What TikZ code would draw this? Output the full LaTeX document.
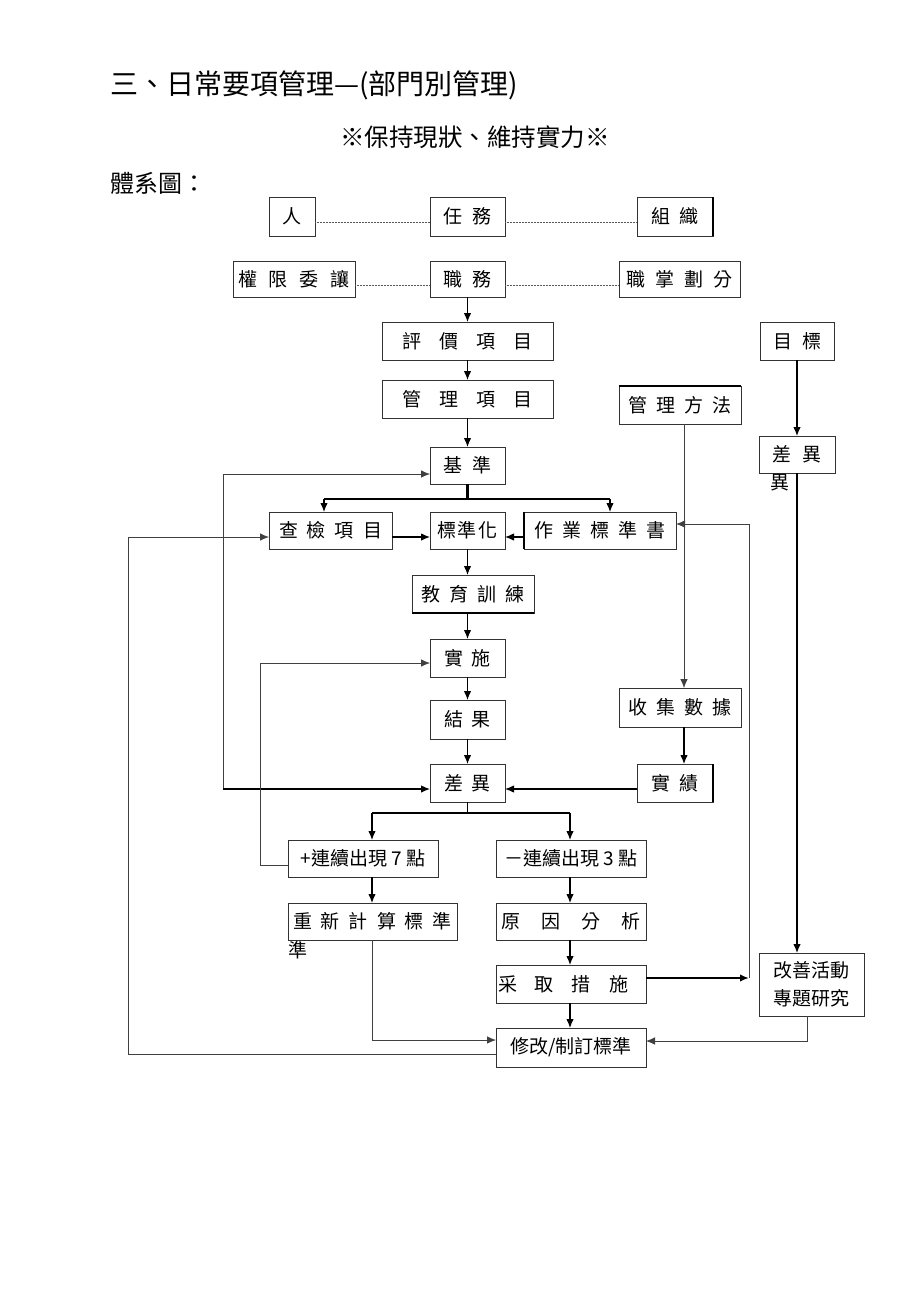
\documentclass[tikz,border=0pt]{standalone}
\usepackage{fontspec}
\setmainfont{Noto Sans CJK TC}
\usetikzlibrary{arrows.meta}
\newcommand\bfnt{\fontsize{19}{24}\selectfont}
\newcommand\gp[1]{\hspace{#1pt}}
% \bx[options]{name}{x1}{y1}{x2}{y2}{text}
\newcommand\bx[7][]{\node[box,minimum width={(#5-#3)*1pt},minimum height={(#6-#4)*1pt},#1] (#2) at ({(#3+#5)/2},{(#4+#6)/2}) {#7};}
\begin{document}
\begin{tikzpicture}[x=1pt,y=-1pt,
  box/.style={draw=black!80,line width=0.8pt,inner sep=0pt,outer sep=0pt,font=\bfnt,anchor=center},
  txt/.style={inner sep=0pt,font=\bfnt},
  arr/.style={-{Latex[length=9pt,width=7.5pt]},line width=1.2pt,black},
  arrthin/.style={-{Latex[length=9pt,width=7.5pt]},line width=0.8pt,black!75},
  heavy/.style={line width=2.2pt,black},
  dotline/.style={line width=0.9pt,black!65,dash pattern=on 0.8pt off 0.7pt},
  edgeline/.style={line width=2pt,black}]
\useasboundingbox (0,0) rectangle (920,1302);
\fill[white] (0,0) rectangle (920,1302);

% headings
\node[anchor=west,inner sep=0pt,font=\fontsize{28}{32}\selectfont] (title) at (110,85) {三、日常要項管理—(部門別管理)};
\node[anchor=west,inner sep=0pt,font=\fontsize{24.5}{28}\selectfont] (sub) at (340,137) {※保持現狀、維持實力※};
\node[anchor=west,inner sep=0pt,font=\fontsize{24}{28}\selectfont] (tixi) at (110,183) {體系圖：};

% boxes
\bx{ren}{269}{197}{315}{236}{人}
\bx{renwu}{430}{197}{505}{236}{任\gp{10}務}
\bx{zuzhi}{637}{197}{713}{236}{組\gp{10}織}
\bx{quanxian}{233}{261}{355}{297}{權\gp{12}限\gp{12}委\gp{12}讓}
\bx{zhiwu}{430}{261}{505}{297}{職\gp{10}務}
\bx{zhizhang}{619}{261}{740}{297}{職\gp{10}掌\gp{10}劃\gp{10}分}
\bx{pingjia}{382}{322}{553}{360}{評\gp{18}價\gp{18}項\gp{18}目}
\bx{guanli}{382}{380}{553}{418}{管\gp{18}理\gp{18}項\gp{18}目}
\bx{mubiao}{760}{322}{834}{360}{目\gp{10}標}
\bx{fangfa}{619}{386}{741}{424}{管\gp{9}理\gp{9}方\gp{9}法}
\bx{chayiR}{759}{436}{835}{473}{差\gp{11}異}
\node[txt] (chayiRx) at (780,483) {異};
\bx{jizhun}{430}{447}{505}{484}{基\gp{10}準}
\bx{chajian}{269}{512}{392}{549}{查\gp{9}檢\gp{9}項\gp{9}目}
\bx{bzh}{430}{512}{505}{549}{標\gp{2}準\gp{2}化}
\bx{zuoye}{524}{512}{676}{549}{作\gp{9}業\gp{9}標\gp{9}準\gp{9}書}
\bx{jiaoyu}{412}{575}{534}{613}{教\gp{9}育\gp{9}訓\gp{9}練}
\bx{shishi}{430}{639}{505}{677}{實\gp{9}施}
\bx{jieguo}{430}{700}{505}{739}{結\gp{9}果}
\bx{chayi}{430}{764}{505}{802}{差\gp{9}異}
\bx{shouji}{619}{688}{741}{727}{收\gp{9}集\gp{9}數\gp{9}據}
\bx{shiji}{637}{764}{713}{802}{實\gp{10}績}
\bx{plus7}{288}{840}{438}{877}{+連續出現 7 點}
\bx{minus3}{496}{840}{646}{877}{－連續出現 3 點}
\bx{chongxin}{288}{903}{457}{940}{重\gp{9}新\gp{9}計\gp{9}算\gp{9}標\gp{9}準}
\node[txt] (chongxinx) at (298,950) {準};
\bx{yuanyin}{496}{903}{646}{940}{原\gp{21}因\gp{21}分\gp{21}析}
\bx{caiqu}{496}{965}{646}{1003}{\makebox[148pt][l]{\hspace{1pt}采\gp{18}取\gp{18}措\gp{18}施}}
\bx{xiugai}{496}{1028}{646}{1067}{修改/制訂標準}
\bx[align=center,font=\fontsize{19}{28}\selectfont]{gaishan}{759}{953}{864}{1016}{改善活動\\專題研究}

% heavier edges seen on some boxes
\draw[edgeline] (zuzhi.north east) -- (zuzhi.south east);
\draw[edgeline] (shiji.north east) -- (shiji.south east);
\draw[line width=1.4pt] (fangfa.north west) -- (fangfa.north east);
\draw[line width=1.4pt] (jiaoyu.south west) -- (jiaoyu.south east);
\draw[line width=1.4pt] (zuoye.north west) -- (zuoye.south west);

% dotted relations
\draw[dotline] (ren.east |- 0,222) -- (renwu.west |- 0,222);
\draw[dotline] (renwu.east |- 0,222) -- (zuzhi.west |- 0,222);
\draw[dotline] (quanxian.east |- 0,285) -- (zhiwu.west |- 0,285);
\draw[dotline] (zhiwu.east |- 0,285) -- (zhizhang.west |- 0,285);

% main column
\draw[arr] (zhiwu) -- (pingjia);
\draw[arr] (pingjia) -- (guanli);
\draw[arr] (guanli) -- (jizhun);
\coordinate (spL) at (324,499);
\coordinate (spR) at (610,499);
\draw[heavy] (jizhun.south) -- (jizhun.south |- spL);
\draw[heavy] (spL) -- (spR);
\draw[arr] (spL) -- (spL |- chajian.north);
\draw[arr] (spR) -- (spR |- zuoye.north);
\draw[arr] (chajian.east |- 0,537) -- (bzh.west |- 0,537);
\draw[arr] (zuoye.west |- 0,537) -- (bzh.east |- 0,537);
\draw[arr] (bzh.south) -- (bzh.south |- jiaoyu.north);
\draw[arr] (shishi.north |- jiaoyu.south) -- (shishi.north);
\draw[arr] (shishi) -- (jieguo);
\draw[arr] (jieguo) -- (chayi);

% right column
\draw[arr] (mubiao) -- (chayiR);
\draw[arr] (chayiR.south) -- (chayiR.south |- gaishan.north);
\draw[arrthin] (fangfa.south -| 684,0) -- (684,0 |- shouji.north);
\draw[arr] (shouji.south -| 684,0) -- (684,0 |- shiji.north);
\draw[arr] (shiji.west |- 0,789) -- (chayi.east |- 0,789);

% split under 差異
\coordinate (sp2L) at (372,813);
\coordinate (sp2R) at (570,813);
\draw[heavy,line width=1.4pt] (chayi.south) -- (chayi.south |- sp2L);
\draw[heavy,line width=1.4pt] (sp2L) -- (sp2R);
\draw[arr] (sp2L) -- (sp2L |- plus7.north);
\draw[arr] (sp2R) -- (sp2R |- minus3.north);
\draw[arr] (sp2L |- plus7.south) -- (sp2L |- chongxin.north);
\draw[arr] (sp2R |- minus3.south) -- (sp2R |- yuanyin.north);
\draw[arr] (sp2R |- yuanyin.south) -- (sp2R |- caiqu.north);
\draw[arr] (sp2R |- caiqu.south) -- (sp2R |- xiugai.north);
\draw[arrthin] (sp2L |- chongxin.south) |- (xiugai.west |- 0,1040);
\draw[arrthin] (807,0 |- gaishan.south) |- (xiugai.east |- 0,1041);

% feedback loops
\draw[arrthin] (xiugai.west |- 0,1054) -| (128,537) -- (chajian.west |- 0,537);
\coordinate (l223) at (223,789);
\draw[arrthin] (l223) |- (jizhun.west |- 0,474);
\draw[arr] (l223) -- (chayi.west |- 0,789);
\draw[arrthin] (plus7.west |- 0,865) -| (260,663) -- (shishi.west |- 0,663);
\coordinate (r750) at (749,978);
\draw[heavy,-{Latex[length=9pt,width=7.5pt]}] (caiqu.east |- 0,978) -- (r750);
\draw[arrthin] (r750) |- (zuoye.east |- 0,524);
\end{tikzpicture}
\end{document}
